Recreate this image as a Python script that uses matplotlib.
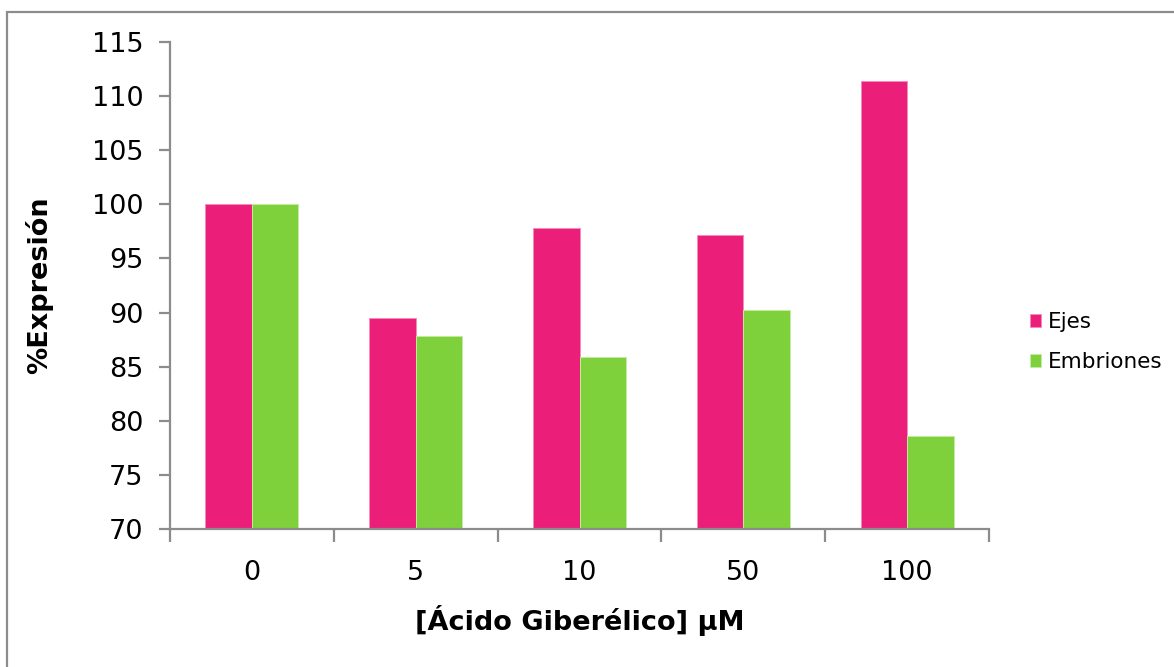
import matplotlib
matplotlib.use("Agg")
import matplotlib.pyplot as plt
from matplotlib.patches import Rectangle
import numpy as np

# Data
concentraciones = ["0", "5", "10", "50", "100"]
ejes = [100.0, 89.5, 97.8, 97.2, 111.4]
embriones = [100.0, 87.8, 85.9, 90.2, 78.6]
series_names = ["Ejes", "Embriones"]

color_ejes = "#EB1F7A"
color_emb = "#7FD13B"
axis_gray = "#8C8C8C"

plt.rcParams["font.family"] = ["DejaVu Sans"]

fig = plt.figure(figsize=(11.74, 6.67), dpi=100)
fig.patch.set_facecolor("white")

# Outer chart-area frame
fig.patches.append(Rectangle((7 / 1174, -0.1), 1.2, 1 - 12 / 667 + 0.1,
                             transform=fig.transFigure, fill=False,
                             edgecolor="#8C8C8C", linewidth=1.6, zorder=0))

ax = fig.add_axes([170 / 1174, 1 - 529 / 667, (989 - 170) / 1174, (529 - 42) / 667])

x = np.arange(len(concentraciones))
w = 0.284
ax.bar(x - w / 2, ejes, width=w, color=color_ejes, edgecolor="#F48CB9",
       linewidth=0.7, label=series_names[0])
ax.bar(x + w / 2, embriones, width=w, color=color_emb, edgecolor="#C4EBA3",
       linewidth=0.7, label=series_names[1])

ax.set_ylim(70, 115)
ax.set_yticks(np.arange(70, 116, 5))
ax.set_xlim(-0.5, len(concentraciones) - 0.5)
ax.set_xticks(x)
ax.set_xticklabels(concentraciones)
ax.set_xticks(np.arange(-0.5, len(concentraciones), 1.0), minor=True)

for side in ("top", "right"):
    ax.spines[side].set_visible(False)
for side in ("left", "bottom"):
    ax.spines[side].set_color(axis_gray)
    ax.spines[side].set_linewidth(1.6)

ax.tick_params(axis="y", which="major", direction="out", length=8, width=1.6,
               color=axis_gray, labelsize=19.5, pad=11)
ax.tick_params(axis="x", which="major", length=0, labelsize=19.5, pad=22)
ax.tick_params(axis="x", which="minor", direction="out", length=9, width=1.6,
               color=axis_gray)

ax.set_ylabel("%Expresión", fontsize=19.5, fontweight="bold", labelpad=28)
ax.set_xlabel("[Ácido Giberélico] µM", fontsize=19.5, fontweight="bold", labelpad=14)

leg = ax.legend(loc="center left", bbox_to_anchor=(1.039, 0.384), frameon=False,
                fontsize=15.5, handlelength=0.55, handleheight=0.55,
                handletextpad=0.3, labelspacing=0.95, borderaxespad=0)

fig.savefig("out.png", dpi=100, facecolor="white")
